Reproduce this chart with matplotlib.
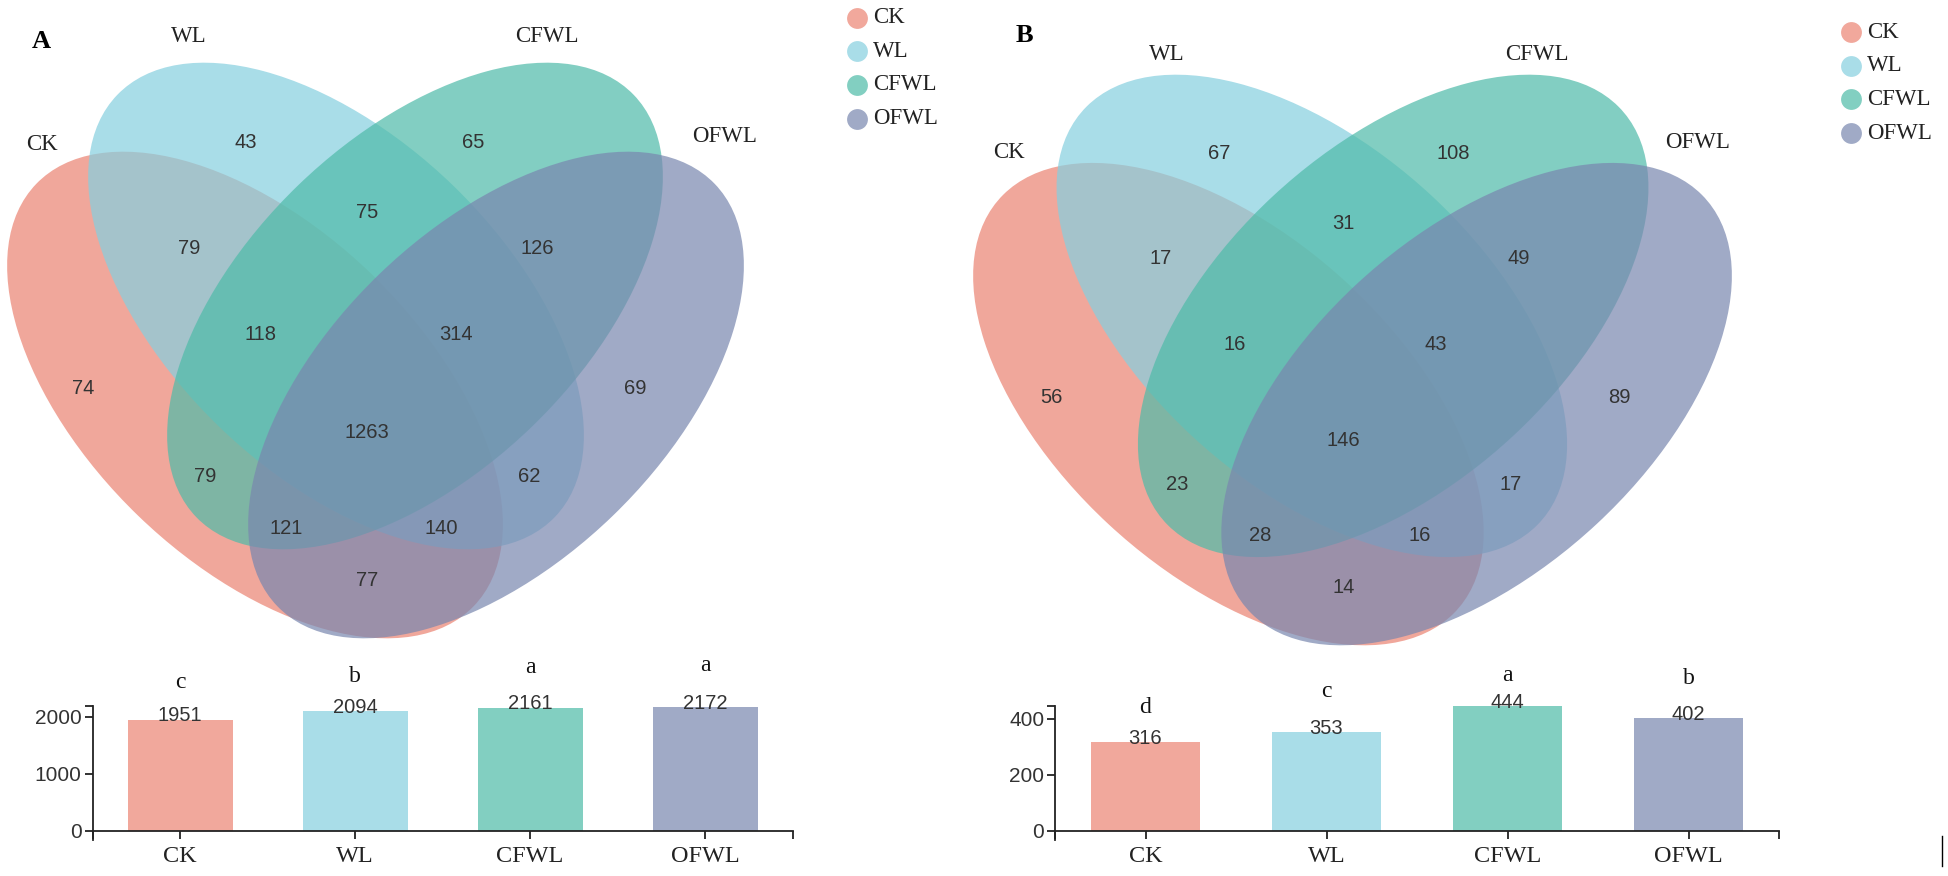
import numpy as np
import matplotlib
matplotlib.use('Agg')
import matplotlib.pyplot as plt
from matplotlib.patches import Ellipse
from matplotlib.transforms import Affine2D

# ---------------- data ----------------
groups = ['CK', 'WL', 'CFWL', 'OFWL']
regions = ['CK', 'WL', 'CFWL', 'OFWL',
           'CK&WL', 'WL&CFWL', 'CFWL&OFWL', 'CK&OFWL', 'CK&CFWL', 'WL&OFWL',
           'CK&WL&CFWL', 'WL&CFWL&OFWL', 'CK&CFWL&OFWL', 'CK&WL&OFWL',
           'CK&WL&CFWL&OFWL']
counts_A = [74, 43, 65, 69, 79, 75, 126, 77, 79, 62, 118, 314, 121, 140, 1263]
counts_B = [56, 67, 108, 89, 17, 31, 49, 14, 23, 17, 16, 43, 28, 16, 146]
totals_A = [1951, 2094, 2161, 2172]
totals_B = [316, 353, 444, 402]
letters_A = ['c', 'b', 'a', 'a']
letters_B = ['d', 'c', 'a', 'b']
yticks_A = [0, 1000, 2000]
yticks_B = [0, 200, 400]

# ---------------- style ----------------
light = ['#F1A89C', '#A9DDE8', '#82CFC1', '#A0AAC6']   # legend / bar colours
base = ['#EB8372', '#86CFDF', '#4FBBA9', '#7987AF']    # ellipse colours (with alpha)
ALPHA = 0.71
SERIF = 'Liberation Serif'
SANS = 'Liberation Sans'
NUMC = '#333333'

W, H = 1948, 876
fig = plt.figure(figsize=(W / 100, H / 100), dpi=100)
ov = fig.add_axes([0, 0, 1, 1])
ov.set_xlim(0, W)
ov.set_ylim(H, 0)
ov.axis('off')

# ellipse layout in panel-A pixel frame
ell_centers = [(255, 395), (336, 306), (415, 306), (496, 395)]
ell_angles = [44, 44, -44, -44]
ELL_A, ELL_B = 304, 168
# label positions of the 15 regions (panel-A pixel frame)
region_pos = np.array([(83, 388), (246, 142), (473, 142), (635, 388),
                       (189, 248), (367, 213), (537, 248), (367, 580),
                       (205, 476), (529, 476),
                       (261, 335), (456, 335), (286, 528), (441, 528),
                       (367, 432)], dtype=float)

sxB, syB = 759 / 737, 570 / 575
tA = Affine2D()
tB = Affine2D().translate(-7, -63).scale(sxB, syB).translate(973, 75)

panels = [
    dict(tr=tA, counts=counts_A, tag='A', tag_xy=(41, 41),
         names_xy=[(42, 144), (189, 36), (547, 36), (725, 136)],
         leg=(857, 17.5)),
    dict(tr=tB, counts=counts_B, tag='B', tag_xy=(1024, 35),
         names_xy=[(1009, 153), (1167, 55), (1537, 55), (1698, 142)],
         leg=(1851, 32)),
]

for p in panels:
    tr = p['tr'] + ov.transData
    for (c, ang, col) in zip(ell_centers, ell_angles, base):
        e = Ellipse(c, 2 * ELL_A, 2 * ELL_B, angle=ang, facecolor=col,
                    edgecolor='none', alpha=ALPHA, transform=tr)
        ov.add_patch(e)
    pts = p['tr'].transform(region_pos)
    for (x, y), n in zip(pts, p['counts']):
        ov.text(x, y, str(n), ha='center', va='center', fontsize=14.5,
                family=SANS, color=NUMC)
    for (x, y), g in zip(p['names_xy'], groups):
        ov.text(x, y, g, ha='center', va='center', fontsize=16.5,
                family=SERIF, color='#222222')
    ov.text(p['tag_xy'][0], p['tag_xy'][1], p['tag'], ha='center', va='center',
            fontsize=19, family=SERIF, fontweight='bold', color='black')
    lx, ly = p['leg']
    for i, (g, col) in enumerate(zip(groups, light)):
        yy = ly + i * 33.7
        ov.plot([lx], [yy], 'o', ms=15, color=col, mec='none')
        ov.text(lx + 16, yy, g, ha='left', va='center', fontsize=16.5,
                family=SERIF, color='#222222')

# small stray mark at the lower right of the original figure
ov.plot([1942, 1942], [836, 866], color='black', lw=1.0)


def bar_panel(left_px, right_px, totals, letters, yticks, ytop, letter_off):
    y0, ytop_px, ybot_px = 831, 706, 840
    ybottom = -(ybot_px - y0) / (y0 - ytop_px) * ytop
    rect = [left_px / W, (H - ybot_px) / H, (right_px - left_px) / W,
            (ybot_px - ytop_px) / H]
    ax = fig.add_axes(rect)
    ax.patch.set_alpha(0)
    x = np.arange(len(groups))
    ax.bar(x, totals, width=0.6, color=light, zorder=2)
    ax.set_xlim(-0.5, 3.5)
    ax.set_ylim(ybottom, ytop)
    for s in ['top', 'right']:
        ax.spines[s].set_visible(False)
    ax.spines['bottom'].set_position(('data', 0))
    for s in ['left', 'bottom']:
        ax.spines[s].set_linewidth(1.3)
        ax.spines[s].set_color('#222222')
    ax.set_xticks(x)
    ax.set_xticklabels(groups, fontsize=17.5, family=SERIF, color='#222222')
    ax.set_yticks(yticks)
    ax.set_yticklabels([str(t) for t in yticks], fontsize=15, family=SANS,
                       color='#333333')
    ax.set_xticks([-0.5, 3.5], minor=True)
    ax.set_yticks([ytop], minor=True)
    ax.tick_params(which='both', direction='out', length=5.8, width=1.3,
                   color='#222222')
    ax.tick_params(axis='x', pad=5)
    ax.tick_params(axis='y', pad=2)
    for i, (v, l, off) in enumerate(zip(totals, letters, letter_off)):
        ax.annotate(str(v), (i, v), xytext=(0, -1.2), textcoords='offset points',
                    ha='center', va='baseline', fontsize=14.5, family=SANS,
                    color=NUMC, annotation_clip=False)
        ax.annotate(l, (i, v), xytext=(0, off), textcoords='offset points',
                    ha='center', va='baseline', fontsize=17, family=SERIF,
                    color='#111111', annotation_clip=False)
    return ax


bar_panel(92.5, 792.5, totals_A, letters_A, yticks_A, 2190, [23, 21.5, 25, 26])
bar_panel(1055, 1779, totals_B, letters_B, yticks_B, 445, [21, 25, 18, 24.5])

fig.savefig('out.png', dpi=100)
